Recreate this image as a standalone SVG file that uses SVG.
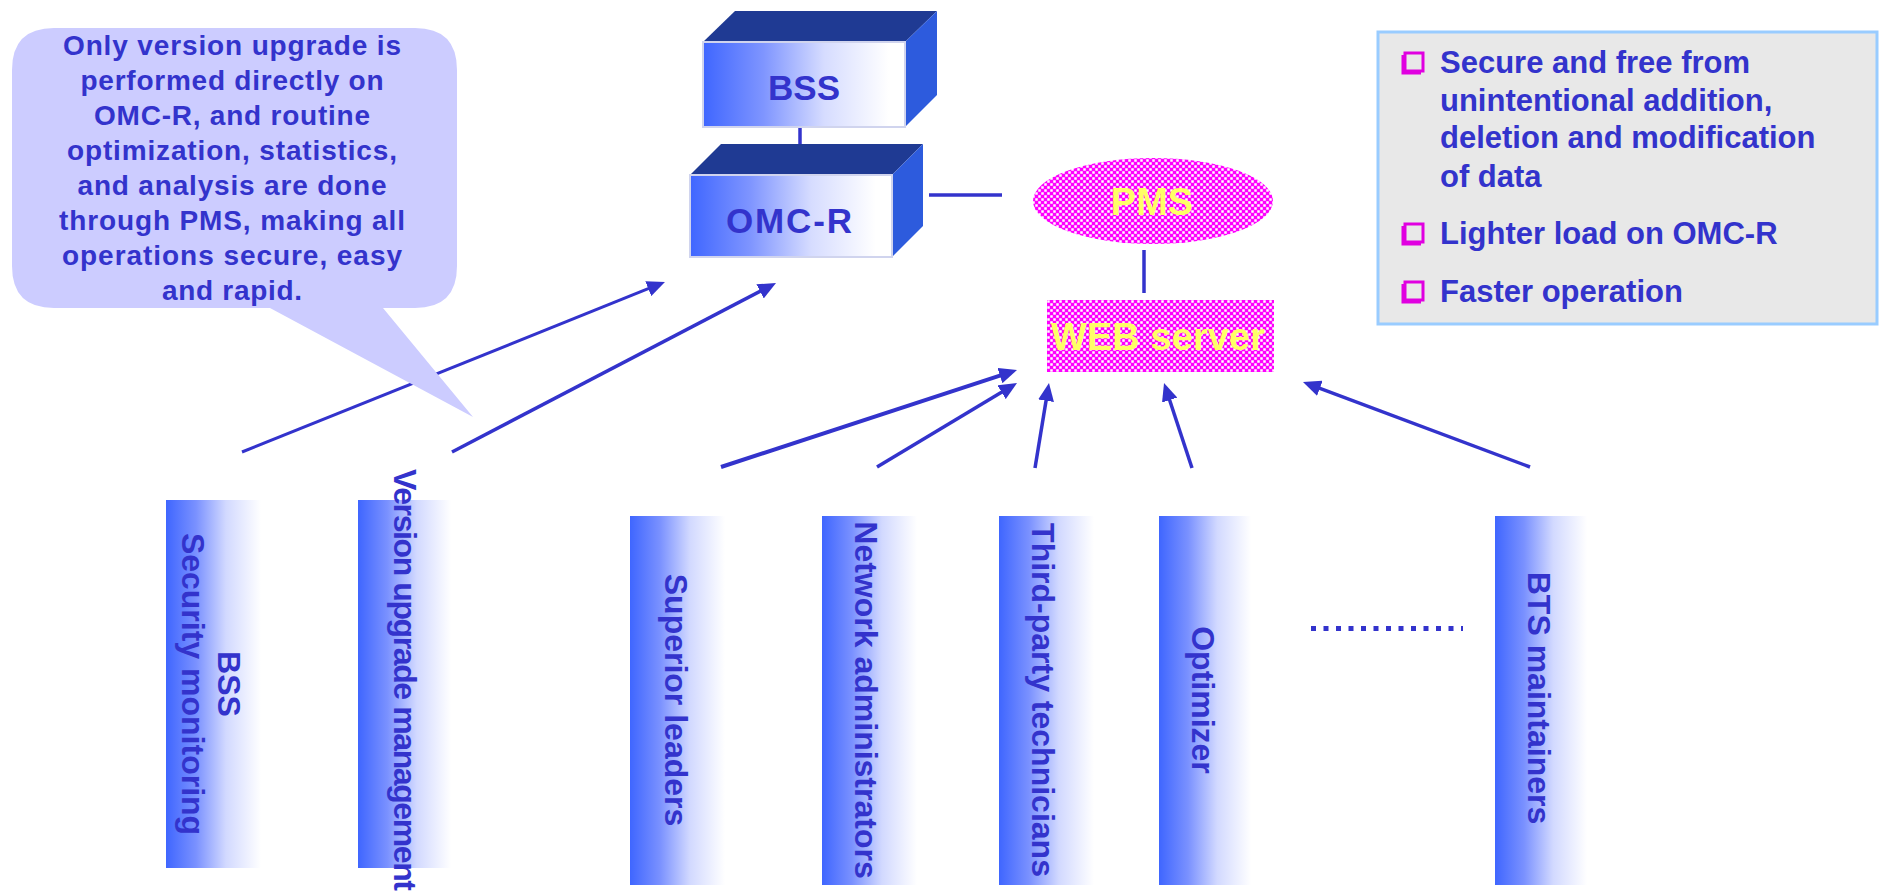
<svg xmlns="http://www.w3.org/2000/svg" width="1883" height="893" viewBox="0 0 1883 893">
<style>
text{font-family:"Liberation Sans",Arial,sans-serif;font-weight:bold;fill:#3333CC}
.bub{font-size:28px}
.box{font-size:35px}
.bar{font-size:32px}
.info{font-size:31px}
.yel{fill:#FFFF66}
.conn{stroke:#3333CC;fill:none}
.top{fill:#1F3A93}
.side{fill:#2D5BDD}
.sq{fill:none;stroke:#E000E0;stroke-width:3}
</style>
<defs>
<linearGradient id="gFront" x1="0" y1="0" x2="1" y2="0">
<stop offset="0" stop-color="#3F66FF"/>
<stop offset="0.3" stop-color="#7F95FF"/>
<stop offset="0.6" stop-color="#D6DCFF"/>
<stop offset="0.92" stop-color="#FFFFFF"/>
</linearGradient>
<linearGradient id="gBar" x1="0" y1="0" x2="1" y2="0">
<stop offset="0" stop-color="#3F66FF"/>
<stop offset="0.3" stop-color="#7A91FF"/>
<stop offset="0.6" stop-color="#D2D9FF"/>
<stop offset="0.95" stop-color="#FFFFFF"/>
</linearGradient>
<pattern id="checker" width="6" height="6" patternUnits="userSpaceOnUse">
<rect width="6" height="6" fill="#FF00FF"/>
<rect x="3.25" y="0.25" width="2.5" height="2.5" fill="#FFFFFF"/>
<rect x="0.25" y="3.25" width="2.5" height="2.5" fill="#FFFFFF"/>
</pattern>
<marker id="arr" viewBox="0 0 18 16" refX="12" refY="8" markerWidth="18" markerHeight="16" markerUnits="userSpaceOnUse" orient="auto">
<path d="M0,0 L18,8 L0,16 Z" fill="#3333CC"/>
</marker>
</defs>
<rect width="1883" height="893" fill="#FFFFFF"/>

<g id="connectors">
<line class="conn" x1="800" y1="127" x2="800" y2="144" stroke-width="3.5"/>
<line class="conn" x1="929" y1="195" x2="1002" y2="195" stroke-width="3.5"/>
<line class="conn" x1="1144" y1="250" x2="1144" y2="293" stroke-width="3.5"/>
<line class="conn" x1="242" y1="452" x2="659.4" y2="284.2" stroke-width="3" marker-end="url(#arr)"/>
<line class="conn" x1="452" y1="452" x2="770.7" y2="285.8" stroke-width="3.5" marker-end="url(#arr)"/>
<line class="conn" x1="721" y1="467" x2="1011.3" y2="371.9" stroke-width="4" marker-end="url(#arr)"/>
<line class="conn" x1="877" y1="467" x2="1011.9" y2="386.1" stroke-width="3.5" marker-end="url(#arr)"/>
<line class="conn" x1="1035" y1="468" x2="1048" y2="388.9" stroke-width="3.5" marker-end="url(#arr)"/>
<line class="conn" x1="1192" y1="468" x2="1165.9" y2="388.7" stroke-width="3.5" marker-end="url(#arr)"/>
<line class="conn" x1="1530" y1="467" x2="1308.6" y2="384.1" stroke-width="3.5" marker-end="url(#arr)"/>
<line class="conn" x1="1311" y1="628.5" x2="1463" y2="628.5" stroke-width="5" stroke-dasharray="5 7.5"/>
</g>

<g id="callout">
<path d="M54,28 H415 Q457,28 457,70 V266 Q457,308 415,308 H383 L473,417 L270,308 H54 Q12,308 12,266 V70 Q12,28 54,28 Z" fill="#CCCCFF"/>
<text class="bub" text-anchor="middle" x="232" y="55" textLength="338">Only version upgrade is</text>
<text class="bub" text-anchor="middle" x="232" y="90" textLength="303">performed directly on</text>
<text class="bub" text-anchor="middle" x="232" y="125" textLength="276">OMC-R, and routine</text>
<text class="bub" text-anchor="middle" x="232" y="160" textLength="330">optimization, statistics,</text>
<text class="bub" text-anchor="middle" x="232" y="195" textLength="309">and analysis are done</text>
<text class="bub" text-anchor="middle" x="232" y="230" textLength="346">through PMS, making all</text>
<text class="bub" text-anchor="middle" x="232" y="265" textLength="340">operations secure, easy</text>
<text class="bub" text-anchor="middle" x="232" y="300" textLength="140">and rapid.</text>
</g>

<g id="bss">
<polygon class="top" points="703,42 735,11 937,11 905,42"/>
<polygon class="side" points="905,42 937,11 937,95 905,127"/>
<rect x="703" y="42" width="202" height="85" fill="url(#gFront)" stroke="#D0D4EE" stroke-width="2"/>
<text class="box" text-anchor="middle" x="804" y="100">BSS</text>
</g>

<g id="omcr">
<polygon class="top" points="690,175 721,144 923,144 892,175"/>
<polygon class="side" points="892,175 923,144 923,226 892,257"/>
<rect x="690" y="175" width="202" height="82" fill="url(#gFront)" stroke="#D0D4EE" stroke-width="2"/>
<text class="box" text-anchor="middle" x="789" y="233" textLength="126">OMC-R</text>
</g>

<g id="pms">
<ellipse cx="1153" cy="201" rx="120" ry="43" fill="url(#checker)"/>
<text class="yel" text-anchor="middle" x="1152" y="215" font-size="38">PMS</text>
</g>

<g id="web">
<rect x="1047" y="300" width="227" height="72" fill="url(#checker)"/>
<text class="yel" text-anchor="middle" x="1158" y="350" font-size="38" textLength="214">WEB server</text>
</g>

<g id="benefits">
<rect x="1378" y="32" width="499" height="292" fill="#E8E8E8" stroke="#99CCFF" stroke-width="3"/>
<rect class="sq" x="1405" y="53" width="18" height="18"/>
<path class="sq" d="M1403,55 V73 H1421"/>
<rect class="sq" x="1405" y="224" width="18" height="18"/>
<path class="sq" d="M1403,226 V244 H1421"/>
<rect class="sq" x="1405" y="282" width="18" height="18"/>
<path class="sq" d="M1403,284 V302 H1421"/>
<text class="info" x="1440" y="73">Secure and free from</text>
<text class="info" x="1440" y="111">unintentional  addition,</text>
<text class="info" x="1440" y="148">deletion and modification</text>
<text class="info" x="1440" y="187">of data</text>
<text class="info" x="1440" y="244">Lighter load on OMC-R</text>
<text class="info" x="1440" y="302">Faster operation</text>
</g>

<g id="role-bss-security">
<rect x="166" y="500" width="100" height="368" fill="url(#gBar)"/>
<text class="bar" text-anchor="middle" transform="translate(218,684) rotate(90)">BSS</text>
<text class="bar" text-anchor="middle" transform="translate(182,684) rotate(90)" font-size="31">Security monitoring</text>
</g>

<g id="role-version-upgrade">
<rect x="358" y="500" width="98" height="368" fill="url(#gBar)"/>
<text class="bar" text-anchor="middle" transform="translate(394,680) rotate(90)" font-size="31" textLength="422">Version upgrade management</text>
</g>

<g id="role-superior">
<rect x="630" y="516" width="100" height="369" fill="url(#gBar)"/>
<text class="bar" text-anchor="middle" transform="translate(665,700) rotate(90)">Superior leaders</text>
</g>

<g id="role-netadmin">
<rect x="822" y="516" width="100" height="369" fill="url(#gBar)"/>
<text class="bar" text-anchor="middle" transform="translate(855,700) rotate(90)">Network administrators</text>
</g>

<g id="role-thirdparty">
<rect x="999" y="516" width="100" height="369" fill="url(#gBar)"/>
<text class="bar" text-anchor="middle" transform="translate(1032,700) rotate(90)">Third-party technicians</text>
</g>

<g id="role-optimizer">
<rect x="1159" y="516" width="97" height="369" fill="url(#gBar)"/>
<text class="bar" text-anchor="middle" transform="translate(1192,700) rotate(90)">Optimizer</text>
</g>

<g id="role-bts">
<rect x="1495" y="516" width="97" height="369" fill="url(#gBar)"/>
<text class="bar" text-anchor="middle" transform="translate(1528,698) rotate(90)">BTS maintainers</text>
</g>
</svg>
